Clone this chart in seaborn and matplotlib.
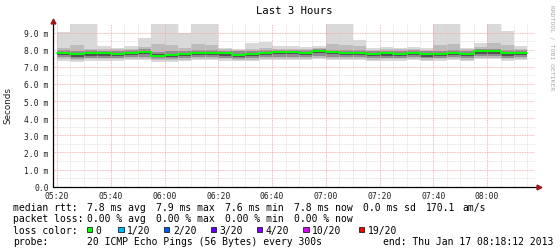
import numpy as np
import pandas as pd
import matplotlib
matplotlib.use("Agg")
import matplotlib.pyplot as plt
from matplotlib.patches import Rectangle
import seaborn as sns

# ---------------- data (ms) ----------------
times = [t.strftime("%H:%M") for t in pd.date_range("2013-01-17 05:20", "2013-01-17 08:10", freq="5min")]
median = [7.80, 7.72, 7.78, 7.78, 7.76, 7.80, 7.86, 7.66, 7.68, 7.74, 7.80, 7.82, 7.78, 7.70, 7.74,
          7.80, 7.84, 7.84, 7.82, 7.92, 7.84, 7.82, 7.82, 7.74, 7.78, 7.76, 7.82, 7.74, 7.76, 7.80,
          7.74, 7.90, 7.90, 7.78, 7.82]
rtt_max = [9.03, 9.60, 9.60, 8.20, 8.12, 8.20, 8.68, 9.60, 9.60, 9.00, 9.60, 9.60, 8.10, 8.05, 8.38,
           8.43, 8.20, 8.20, 8.15, 8.23, 9.60, 9.60, 8.58, 8.10, 8.15, 8.12, 8.15, 8.08, 9.60, 9.60,
           8.10, 8.38, 9.60, 9.12, 8.23]
p90 = [8.10, 8.30, 8.05, 8.05, 8.02, 8.05, 8.15, 8.35, 8.30, 8.10, 8.35, 8.30, 8.02, 8.00, 8.05,
       8.10, 8.05, 8.05, 8.02, 8.08, 8.35, 8.30, 8.20, 8.00, 8.03, 8.02, 8.05, 8.00, 8.30, 8.35,
       8.02, 8.15, 8.40, 8.30, 8.05]
p75 = [7.98, 7.92, 7.96, 7.95, 7.94, 7.97, 8.02, 7.88, 7.90, 7.93, 7.98, 8.00, 7.95, 7.90, 7.93,
       7.98, 8.00, 8.00, 7.98, 8.06, 8.00, 7.98, 8.00, 7.92, 7.95, 7.94, 7.98, 7.92, 7.95, 7.97,
       7.92, 8.05, 8.06, 7.96, 7.99]
p60 = [7.84, 7.76, 7.82, 7.82, 7.80, 7.84, 7.90, 7.72, 7.72, 7.78, 7.84, 7.86, 7.82, 7.75, 7.78,
       7.84, 7.88, 7.88, 7.86, 7.96, 7.88, 7.86, 7.86, 7.78, 7.82, 7.80, 7.86, 7.78, 7.80, 7.84,
       7.78, 7.94, 7.94, 7.82, 7.86]
p40 = [7.68, 7.60, 7.66, 7.65, 7.64, 7.68, 7.72, 7.55, 7.56, 7.62, 7.68, 7.70, 7.66, 7.58, 7.62,
       7.68, 7.72, 7.72, 7.70, 7.78, 7.72, 7.70, 7.70, 7.62, 7.66, 7.64, 7.70, 7.60, 7.64, 7.68,
       7.62, 7.76, 7.76, 7.66, 7.70]
p25 = [7.55, 7.48, 7.54, 7.53, 7.52, 7.55, 7.58, 7.45, 7.46, 7.52, 7.55, 7.57, 7.53, 7.48, 7.51,
       7.55, 7.58, 7.58, 7.56, 7.62, 7.58, 7.56, 7.57, 7.50, 7.53, 7.52, 7.56, 7.49, 7.52, 7.55,
       7.50, 7.62, 7.62, 7.53, 7.56]
p10 = [7.45, 7.38, 7.45, 7.44, 7.43, 7.46, 7.48, 7.38, 7.38, 7.42, 7.46, 7.47, 7.44, 7.40, 7.42,
       7.46, 7.48, 7.48, 7.46, 7.52, 7.48, 7.47, 7.48, 7.42, 7.44, 7.43, 7.46, 7.40, 7.43, 7.46,
       7.42, 7.52, 7.52, 7.44, 7.46]
rtt_min = [7.36, 7.30, 7.36, 7.36, 7.35, 7.37, 7.40, 7.30, 7.30, 7.34, 7.37, 7.38, 7.36, 7.32, 7.34,
           7.37, 7.40, 7.40, 7.38, 7.43, 7.40, 7.38, 7.40, 7.34, 7.36, 7.35, 7.38, 7.33, 7.35, 7.37,
           7.34, 7.44, 7.44, 7.36, 7.38]
x_ticks = ["05:20", "05:40", "06:00", "06:20", "06:40", "07:00", "07:20", "07:40", "08:00"]
y_ticks = [0.0, 1.0, 2.0, 3.0, 4.0, 5.0, 6.0, 7.0, 8.0, 9.0]
y_tick_labels = ["0.0", "1.0 m", "2.0 m", "3.0 m", "4.0 m", "5.0 m", "6.0 m", "7.0 m", "8.0 m", "9.0 m"]
loss_labels = ["0", "1/20", "2/20", "3/20", "4/20", "10/20", "19/20"]
loss_colors = ["#00ff00", "#00b8ff", "#0059ff", "#5e00ff", "#7e00ff", "#dd00ff", "#ff0000"]


def to_min(s):
    h, m = s.split(":")
    return (int(h) - 5) * 60 + int(m) - 20


t = np.array([to_min(s) for s in times], dtype=float)
t_ext = np.append(t, t[-1] + 5)


def ext(a):
    a = np.asarray(a, dtype=float)
    return np.append(a, a[-1])


sns.set_theme(style="white")
plt.rcParams["font.family"] = ["DejaVu Sans Mono"]

W, H = 560, 253
fig = plt.figure(figsize=(W / 100, H / 100), dpi=100)
fig.patch.set_facecolor("white")
ax = fig.add_axes([53 / W, 65.3 / H, 482 / W, 162.7 / H])
ax.set_facecolor("white")

# smoke bands
bands = [(rtt_min, rtt_max, "#d9d9d9"), (p10, p90, "#bcbcbc"),
         (p25, p75, "#8e8e8e"), (p40, p60, "#525252")]
for lo, hi, c in bands:
    ax.fill_between(t_ext, ext(lo), ext(hi), step="post", color=c, lw=0, zorder=1)

df = pd.DataFrame({"t": t_ext, "median": ext(median)})
sns.lineplot(data=df, x="t", y="median", ax=ax, color="#00ff00", lw=1.4,
             drawstyle="steps-post", estimator=None, zorder=4)

ax.set_xlim(-1.5, 177.8)
ax.set_ylim(0, 9.5)
ax.set_xlabel("")
ax.set_ylabel("")

# grid
ax.set_xticks([to_min(s) for s in x_ticks])
ax.set_xticklabels(x_ticks, fontsize=5.8, color="#202020")
ax.set_xticks(np.arange(0, 178, 5), minor=True)
ax.set_yticks(y_ticks)
ax.set_yticklabels(y_tick_labels, fontsize=5.8, color="#202020")
ax.set_yticks(np.arange(0.5, 9.5, 0.5), minor=True)
ax.tick_params(axis="both", which="both", length=0, pad=3)
ax.grid(which="minor", color="#d4d4d4", lw=0.5, linestyle=(0, (1, 1)), zorder=2)
ax.grid(which="major", color="#f4a0a0", lw=0.6, linestyle=(0, (1, 1)), zorder=2.5)
ax.set_axisbelow(False)
for sp in ax.spines.values():
    sp.set_visible(False)

# axes with arrows
ax.plot([0, 1.008], [0, 0], transform=ax.transAxes, color="black", lw=0.9, clip_on=False, zorder=5)
ax.plot([0, 0], [0, 1.01], transform=ax.transAxes, color="black", lw=0.9, clip_on=False, zorder=5)
ax.plot([1.008], [0], transform=ax.transAxes, marker=">", ms=3.5, color="#a01818", clip_on=False, zorder=6)
ax.plot([0], [1.02], transform=ax.transAxes, marker="^", ms=3.5, color="#a01818", clip_on=False, zorder=6)

# texts
def ftxt(x, y, s, **kw):
    fig.text(x / W, 1 - y / H, s, **kw)

ftxt(294.7, 11, "Last 3 Hours", ha="center", va="center", fontsize=7.6, color="black")
fig.text(7.5 / W, 1 - 106 / H, "Seconds", rotation=90, ha="center", va="center",
         fontsize=6.3, family="DejaVu Sans", color="#202020")
ftxt(551.7, 48, "RRDTOOL / TOBI OETIKER", rotation=270, ha="center", va="center",
     fontsize=4.6, color="#a8a8a8")

fs = 7.0
rows = [
    (207.7, [(13.3, "median rtt:"), (86.7, "7.8 ms avg"), (156, "7.9 ms max"), (225, "7.6 ms min"),
             (294, "7.8 ms now"), (363, "0.0 ms sd"), (425.7, "170.1"), (462.7, "am/s")]),
    (219.3, [(13.3, "packet loss:"), (86.7, "0.00 % avg"), (156, "0.00 % max"), (225, "0.00 % min"),
             (294, "0.00 % now")]),
    (242.3, [(13.3, "probe:"), (86.7, "20 ICMP Echo Pings (56 Bytes) every 300s"),
             (383.3, "end: Thu Jan 17 08:18:12 2013")]),
]
for y, items in rows:
    for x, s in items:
        ftxt(x, y, s, ha="left", va="center", fontsize=fs, color="black")

ftxt(13.3, 230.7, "loss color:", ha="left", va="center", fontsize=fs, color="black")
box_x = [86.7, 118.3, 164.0, 210.7, 256.7, 303.3, 359.0]
for bx, lab, col in zip(box_x, loss_labels, loss_colors):
    fig.add_artist(Rectangle((bx / W, 1 - 233.3 / H), 5.2 / W, 5.2 / H, transform=fig.transFigure,
                             facecolor=col, edgecolor="black", lw=0.5))
    ftxt(bx + 9, 230.7, lab, ha="left", va="center", fontsize=fs, color="black")

fig.savefig("out.png", dpi=100, facecolor="white")
